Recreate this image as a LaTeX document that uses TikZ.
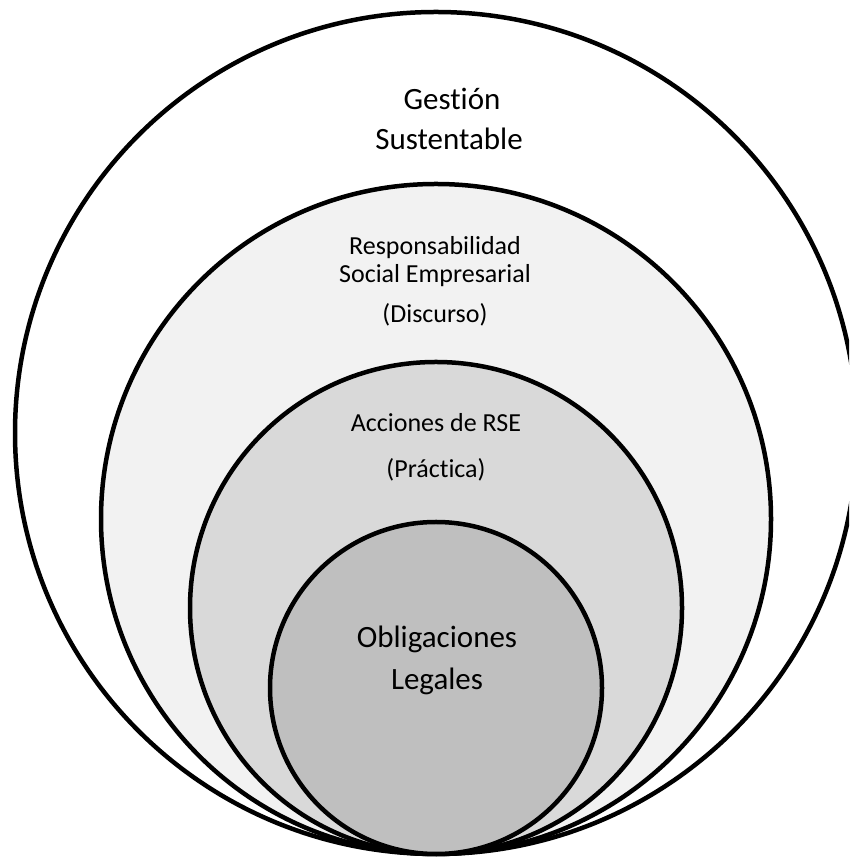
\documentclass[tikz,border=0pt]{standalone}
\usepackage{fontspec}
\setmainfont{Carlito}[Ligatures=CommonOff]
\definecolor{ringA}{HTML}{F2F2F2}
\definecolor{ringB}{HTML}{D9D9D9}
\definecolor{ringC}{HTML}{BFBFBF}
\begin{document}
\begin{tikzpicture}[x=1pt,y=1pt,
  ring/.style={draw=black,line width=4.5pt},
  bigtxt/.style={anchor=base,font=\fontsize{31}{37}\selectfont,inner sep=0pt},
  midtxt/.style={anchor=base,font=\fontsize{26}{31}\selectfont,inner sep=0pt},
  acctxt/.style={anchor=base,font=\fontsize{26}{31}\selectfont,inner sep=0pt}]
\useasboundingbox (0,0) rectangle (849,858);
\clip (0,0) rectangle (849,858);
\fill[white] (0,0) rectangle (849,858);
% circles (image y -> 858 - y)
\draw[ring,fill=white] (436,425) circle[radius=421];
\draw[ring,fill=ringA] (436,339) circle[radius=335];
\draw[ring,fill=ringB] (436,250) circle[radius=246];
\draw[ring,fill=ringC] (436,170) circle[radius=166];
% texts
\node[bigtxt] (g1) at (452,748) {Gestión};
\node[bigtxt] (g2) at (449,708) {Sustentable};
\node[midtxt] (r1) at (435,603) {Responsabilidad};
\node[midtxt] (r2) at (435,575) {Social Empresarial};
\node[midtxt] (r3) at (435,535) {(Discurso)};
\node[acctxt] (a1) at (436,426) {Acciones de RSE};
\node[acctxt] (a2) at (436,380) {(Práctica)};
\node[bigtxt] (o1) at (437,210) {Obligaciones};
\node[bigtxt] (o2) at (437,168) {Legales};
\end{tikzpicture}
\end{document}
